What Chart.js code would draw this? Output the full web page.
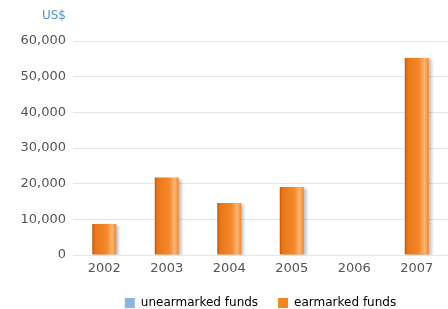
<!DOCTYPE html>
<html>
<head>
<meta charset="utf-8">
<script src="https://cdn.jsdelivr.net/npm/chart.js@4/dist/chart.umd.min.js"></script>
<style>
  html, body { margin: 0; padding: 0; background: #fff; }
  #wrap { width: 448px; height: 309px; position: relative; }
</style>
</head>
<body>
<div id="wrap"><canvas id="myChart"></canvas></div>
<script>
const years = ["2002", "2003", "2004", "2005", "2006", "2007"];
const unearmarked = [0, 0, 0, 0, 0, 0];
const earmarked = [8700, 21700, 14600, 19100, 0, 55200];
const yTicks = [0, 10000, 20000, 30000, 40000, 50000, 60000];

const BAR_W = 24;
const FONT = "'DejaVu Sans', Verdana, sans-serif";

// orange bar with a darker left edge and light highlight on the right
function orangeFill(ctx) {
  if (ctx.type !== "data") return "#f3861f";
  const chart = ctx.chart;
  if (!chart.chartArea || !chart.scales.x) return "#f3861f";
  const cx = chart.scales.x.getPixelForValue(ctx.dataIndex);
  const g = chart.ctx.createLinearGradient(cx - BAR_W / 2, 0, cx + BAR_W / 2, 0);
  g.addColorStop(0, "#c15a0c");
  g.addColorStop(0.12, "#ea7719");
  g.addColorStop(0.6, "#f4882a");
  g.addColorStop(0.83, "#fbb574");
  g.addColorStop(1, "#ee8630");
  return g;
}

const shadowPlugin = {
  id: "barShadow",
  beforeDatasetsDraw(chart) {
    const c = chart.ctx;
    c.save();
    c.shadowColor = "rgba(0,0,0,0.25)";
    c.shadowOffsetX = 3;
    c.shadowOffsetY = 1;
    c.shadowBlur = 3;
  },
  afterDatasetsDraw(chart) {
    chart.ctx.restore();
  }
};

const unitLabel = {
  id: "unitLabel",
  afterDraw(chart) {
    const c = chart.ctx;
    c.save();
    c.font = "12px " + FONT;
    c.fillStyle = "#4a94d2";
    c.textAlign = "right";
    c.textBaseline = "middle";
    c.fillText("US$", 66, 16);
    c.restore();
  }
};

const chart = new Chart(document.getElementById("myChart"), {
  type: "bar",
  data: {
    labels: years,
    datasets: [
      {
        label: "unearmarked funds",
        backgroundColor: "#8cb4e2",
        data: unearmarked,
        barThickness: BAR_W,
        inflateAmount: 0
      },
      {
        label: "earmarked funds",
        backgroundColor: orangeFill,
        data: earmarked,
        barThickness: BAR_W,
        inflateAmount: 0
      }
    ]
  },
  options: {
    responsive: true,
    maintainAspectRatio: false,
    animation: false,
    layout: { padding: { top: 41, left: 0, right: 0, bottom: -10 } },
    plugins: {
      tooltip: { enabled: false },
      legend: {
        position: "bottom",
        fullSize: false,
        labels: {
          boxWidth: 10,
          boxHeight: 10,
          padding: 20,
          color: "#555",
          font: { family: FONT, size: 12 },
          generateLabels(ch) {
            return ch.data.datasets.map((ds, i) => ({
              text: ds.label,
              fillStyle: i === 0 ? "#8cb4e2" : "#f3861f",
              strokeStyle: "rgba(0,0,0,0)",
              lineWidth: 0,
              datasetIndex: i
            }));
          }
        }
      }
    },
    scales: {
      x: {
        stacked: true,
        afterFit(scale) { scale.height = 22; },
        grid: { display: false, drawTicks: false },
        border: { display: false },
        ticks: { color: "#555", font: { family: FONT, size: 13 }, padding: 6 }
      },
      y: {
        stacked: true,
        min: 0,
        max: 60000,
        afterFit(scale) { scale.width = 73; },
        afterBuildTicks(scale) { scale.ticks = yTicks.map(v => ({ value: v })); },
        grid: { color: "#e6e6e6", drawTicks: false },
        border: { display: false },
        ticks: {
          color: "#555",
          padding: 7,
          font: { family: FONT, size: 13 },
          callback: v => v.toLocaleString("en-US")
        }
      }
    }
  },
  plugins: [shadowPlugin, unitLabel]
});
</script>
</body>
</html>
